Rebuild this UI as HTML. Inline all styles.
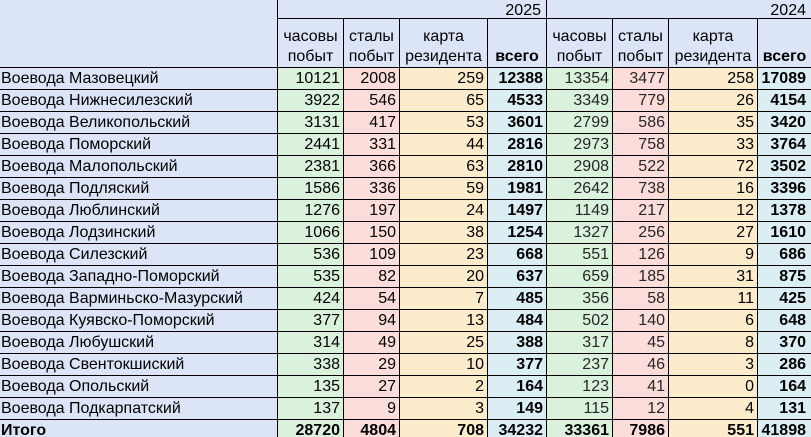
<!DOCTYPE html>
<html>
<head>
<meta charset="utf-8">
<style>
html,body{margin:0;padding:0;background:#dbe5f7;}
body{width:811px;height:437px;overflow:hidden;}
.t{display:grid;width:811px;height:437px;overflow:hidden;
grid-template-columns:278px 66px 56px 88px 59px 66px 56px 89px 53px;
grid-template-rows:19px 49px repeat(16,22px) 18px;
font-family:"Liberation Sans",Arial,sans-serif;font-size:16px;color:#000;}
.t>div{box-sizing:border-box;border-right:1px solid #000;border-bottom:1px solid #000;
white-space:nowrap;overflow:hidden;line-height:21px;text-align:right;padding-right:3px;}
.t>div.e{border-right:none;padding-right:5px;}
.n{background:#dbe5f7;text-align:left!important;padding-left:1px;padding-right:0!important;}
.g{background:#daf2dc;}
.p{background:#fcddd9;}
.y{background:#fdeccc;}
.b{background:#daeef3;font-weight:bold;}
.gr{color:#262626;}
.h{background:#dbe5f7;}
.t>div.hh{grid-row:span 2;}
.t>div.yr{grid-column:span 4;line-height:18px;padding-top:2px;padding-right:5px;}
.t>div.hc{display:flex;flex-direction:column;justify-content:flex-end;align-items:center;
text-align:center;line-height:20px;padding-right:0;}
.bold{font-weight:bold;}
</style>
</head>
<body>
<div class="t">
<div class="h hh"></div>
<div class="h yr">2025</div>
<div class="h yr e">2024</div>

<div class="h hc"><span>часовы</span><span>побыт</span></div>
<div class="h hc"><span>сталы</span><span>побыт</span></div>
<div class="h hc"><span>карта</span><span>резидента</span></div>
<div class="h hc bold"><span>всего</span></div>
<div class="h hc"><span>часовы</span><span>побыт</span></div>
<div class="h hc"><span>сталы</span><span>побыт</span></div>
<div class="h hc"><span>карта</span><span>резидента</span></div>
<div class="h hc bold e" style="padding-right:0"><span>всего</span></div>

<div class="n">Воевода Мазовецкий</div><div class="g">10121</div><div class="p">2008</div><div class="y">259</div><div class="b">12388</div><div class="g gr">13354</div><div class="p gr">3477</div><div class="y">258</div><div class="b e">17089</div>
<div class="n">Воевода Нижнесилезский</div><div class="g">3922</div><div class="p">546</div><div class="y">65</div><div class="b">4533</div><div class="g gr">3349</div><div class="p gr">779</div><div class="y">26</div><div class="b e">4154</div>
<div class="n">Воевода Великопольский</div><div class="g">3131</div><div class="p">417</div><div class="y">53</div><div class="b">3601</div><div class="g gr">2799</div><div class="p gr">586</div><div class="y">35</div><div class="b e">3420</div>
<div class="n">Воевода Поморский</div><div class="g">2441</div><div class="p">331</div><div class="y">44</div><div class="b">2816</div><div class="g gr">2973</div><div class="p gr">758</div><div class="y">33</div><div class="b e">3764</div>
<div class="n">Воевода Малопольский</div><div class="g">2381</div><div class="p">366</div><div class="y">63</div><div class="b">2810</div><div class="g gr">2908</div><div class="p gr">522</div><div class="y">72</div><div class="b e">3502</div>
<div class="n">Воевода Подляский</div><div class="g">1586</div><div class="p">336</div><div class="y">59</div><div class="b">1981</div><div class="g gr">2642</div><div class="p gr">738</div><div class="y">16</div><div class="b e">3396</div>
<div class="n">Воевода Люблинский</div><div class="g">1276</div><div class="p">197</div><div class="y">24</div><div class="b">1497</div><div class="g gr">1149</div><div class="p gr">217</div><div class="y">12</div><div class="b e">1378</div>
<div class="n">Воевода Лодзинский</div><div class="g">1066</div><div class="p">150</div><div class="y">38</div><div class="b">1254</div><div class="g gr">1327</div><div class="p gr">256</div><div class="y">27</div><div class="b e">1610</div>
<div class="n">Воевода Силезский</div><div class="g">536</div><div class="p">109</div><div class="y">23</div><div class="b">668</div><div class="g gr">551</div><div class="p gr">126</div><div class="y">9</div><div class="b e">686</div>
<div class="n">Воевода Западно-Поморский</div><div class="g">535</div><div class="p">82</div><div class="y">20</div><div class="b">637</div><div class="g gr">659</div><div class="p gr">185</div><div class="y">31</div><div class="b e">875</div>
<div class="n">Воевода Варминьско-Мазурский</div><div class="g">424</div><div class="p">54</div><div class="y">7</div><div class="b">485</div><div class="g gr">356</div><div class="p gr">58</div><div class="y">11</div><div class="b e">425</div>
<div class="n">Воевода Куявско-Поморский</div><div class="g">377</div><div class="p">94</div><div class="y">13</div><div class="b">484</div><div class="g gr">502</div><div class="p gr">140</div><div class="y">6</div><div class="b e">648</div>
<div class="n">Воевода Любушский</div><div class="g">314</div><div class="p">49</div><div class="y">25</div><div class="b">388</div><div class="g gr">317</div><div class="p gr">45</div><div class="y">8</div><div class="b e">370</div>
<div class="n">Воевода Свентокшиский</div><div class="g">338</div><div class="p">29</div><div class="y">10</div><div class="b">377</div><div class="g gr">237</div><div class="p gr">46</div><div class="y">3</div><div class="b e">286</div>
<div class="n">Воевода Опольский</div><div class="g">135</div><div class="p">27</div><div class="y">2</div><div class="b">164</div><div class="g gr">123</div><div class="p gr">41</div><div class="y">0</div><div class="b e">164</div>
<div class="n">Воевода Подкарпатский</div><div class="g">137</div><div class="p">9</div><div class="y">3</div><div class="b">149</div><div class="g gr">115</div><div class="p gr">12</div><div class="y">4</div><div class="b e">131</div>
<div class="n bold" style="border-bottom:none">Итого</div><div class="g bold" style="border-bottom:none">28720</div><div class="p bold" style="border-bottom:none">4804</div><div class="y bold" style="border-bottom:none">708</div><div class="b" style="border-bottom:none">34232</div><div class="g bold" style="border-bottom:none">33361</div><div class="p bold" style="border-bottom:none">7986</div><div class="y bold" style="border-bottom:none">551</div><div class="b e" style="border-bottom:none">41898</div>
</div>
</body>
</html>
